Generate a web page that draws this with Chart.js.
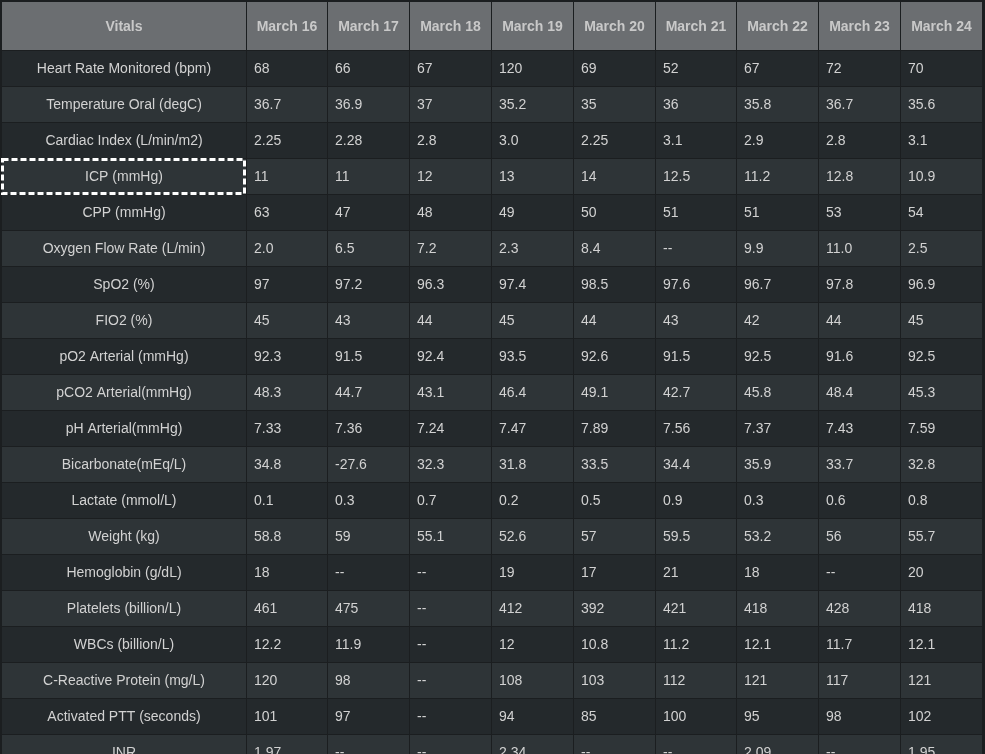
<!DOCTYPE html>
<html><head><meta charset="utf-8">
<script src="https://cdn.jsdelivr.net/npm/chart.js@4"></script>
<style>html,body{margin:0;padding:0;background:#1b1e20;overflow:hidden}#wrap{width:985px;height:754px}</style>
</head><body><div id="wrap"><canvas id="tbl"></canvas></div>
<script>
const dates = ["March 16","March 17","March 18","March 19","March 20","March 21","March 22","March 23","March 24"];
const vitals = ["Heart Rate Monitored (bpm)","Temperature Oral (degC)","Cardiac Index (L/min/m2)","ICP (mmHg)","CPP (mmHg)","Oxygen Flow Rate (L/min)","SpO2 (%)","FIO2 (%)","pO2 Arterial (mmHg)","pCO2 Arterial(mmHg)","pH Arterial(mmHg)","Bicarbonate(mEq/L)","Lactate (mmol/L)","Weight (kg)","Hemoglobin (g/dL)","Platelets (billion/L)","WBCs (billion/L)","C-Reactive Protein (mg/L)","Activated PTT (seconds)","INR"];
const heartRate = ["68","66","67","120","69","52","67","72","70"];
const temperature = ["36.7","36.9","37","35.2","35","36","35.8","36.7","35.6"];
const cardiacIndex = ["2.25","2.28","2.8","3.0","2.25","3.1","2.9","2.8","3.1"];
const icp = ["11","11","12","13","14","12.5","11.2","12.8","10.9"];
const cpp = ["63","47","48","49","50","51","51","53","54"];
const oxygenFlow = ["2.0","6.5","7.2","2.3","8.4","--","9.9","11.0","2.5"];
const spo2 = ["97","97.2","96.3","97.4","98.5","97.6","96.7","97.8","96.9"];
const fio2 = ["45","43","44","45","44","43","42","44","45"];
const po2 = ["92.3","91.5","92.4","93.5","92.6","91.5","92.5","91.6","92.5"];
const pco2 = ["48.3","44.7","43.1","46.4","49.1","42.7","45.8","48.4","45.3"];
const ph = ["7.33","7.36","7.24","7.47","7.89","7.56","7.37","7.43","7.59"];
const bicarbonate = ["34.8","-27.6","32.3","31.8","33.5","34.4","35.9","33.7","32.8"];
const lactate = ["0.1","0.3","0.7","0.2","0.5","0.9","0.3","0.6","0.8"];
const weight = ["58.8","59","55.1","52.6","57","59.5","53.2","56","55.7"];
const hemoglobin = ["18","--","--","19","17","21","18","--","20"];
const platelets = ["461","475","--","412","392","421","418","428","418"];
const wbcs = ["12.2","11.9","--","12","10.8","11.2","12.1","11.7","12.1"];
const crp = ["120","98","--","108","103","112","121","117","121"];
const ptt = ["101","97","--","94","85","100","95","98","102"];
const inr = ["1.97","--","--","2.34","--","--","2.09","--","1.95"];
const rows = [heartRate,temperature,cardiacIndex,icp,cpp,oxygenFlow,spo2,fio2,po2,pco2,ph,bicarbonate,lactate,weight,hemoglobin,platelets,wbcs,crp,ptt,inr];

// column edges in x units: first column ~3 wide, dates 1 wide each
const firstW = 2.99;
const colEdge = i => i === 0 ? 0 : firstW + i - 1;
const headH = 1.39;
const rowTop = r => headH + r;
const selected = {row: 3, col: 0};

const tablePlugin = {
  id: "table",
  beforeDraw(c) {
    const {ctx, scales: {x, y}} = c;
    const X = v => Math.round(x.getPixelForValue(v)), Y = v => Math.round(y.getPixelForValue(v));
    const ncol = dates.length + 1;
    ctx.save();
    ctx.fillStyle = "#1b1e20";
    ctx.fillRect(0, 0, c.width, c.height);
    for (let j = 0; j < ncol; j++) {
      const x0 = X(colEdge(j)) + 2, x1 = X(colEdge(j + 1)) + 1;
      ctx.fillStyle = "#6b6e71";
      ctx.fillRect(x0, 2, x1 - x0, Y(headH) - 2);
      ctx.fillStyle = "#c9c9c9";
      ctx.font = "bold 14px 'Liberation Sans', Arial, sans-serif";
      ctx.textAlign = "center"; ctx.textBaseline = "middle";
      ctx.fillText(j === 0 ? "Vitals" : dates[j - 1], (x0 + x1) / 2, (2 + Y(headH)) / 2 + 1);
    }
    ctx.font = "14px 'Liberation Sans', Arial, sans-serif";
    rows.forEach((vals, r) => {
      const y0 = Y(rowTop(r)) + 1, y1 = Y(rowTop(r + 1));
      for (let j = 0; j < ncol; j++) {
        const x0 = X(colEdge(j)) + 2, x1 = X(colEdge(j + 1)) + 1;
        ctx.fillStyle = r % 2 === 0 ? "#24292c" : "#2e3437";
        ctx.fillRect(x0, y0, x1 - x0, y1 - y0);
        ctx.fillStyle = "#d2d2d2";
        ctx.textBaseline = "middle";
        if (j === 0) {
          ctx.textAlign = "center";
          ctx.fillText(vitals[r], (x0 + x1) / 2, (y0 + y1) / 2 + 1);
        } else {
          ctx.textAlign = "left";
          ctx.fillText(vals[j - 1], x0 + 7, (y0 + y1) / 2 + 1);
        }
      }
    });
    const s = selected;
    ctx.strokeStyle = "#ffffff"; ctx.lineWidth = 3; ctx.setLineDash([6, 3]);
    const sx0 = X(colEdge(s.col)) + 2, sx1 = X(colEdge(s.col + 1));
    const sy0 = Y(rowTop(s.row)) + 1, sy1 = Y(rowTop(s.row + 1));
    ctx.strokeRect(sx0 + 0.5, sy0 + 0.5, sx1 - sx0 - 1, sy1 - sy0 - 1);
    ctx.restore();
  }
};

new Chart(document.getElementById("tbl"), {
  type: "scatter",
  data: { datasets: [{ data: [] }] },
  options: {
    responsive: true, maintainAspectRatio: false, animation: false,
    layout: { padding: 0 },
    plugins: { legend: { display: false }, tooltip: { enabled: false } },
    scales: {
      x: { type: "linear", display: false, min: 0, max: 985 / 81.8 },
      y: { type: "linear", display: false, reverse: true, min: 0, max: 754 / 36 }
    }
  },
  plugins: [tablePlugin]
});
</script></body></html>
